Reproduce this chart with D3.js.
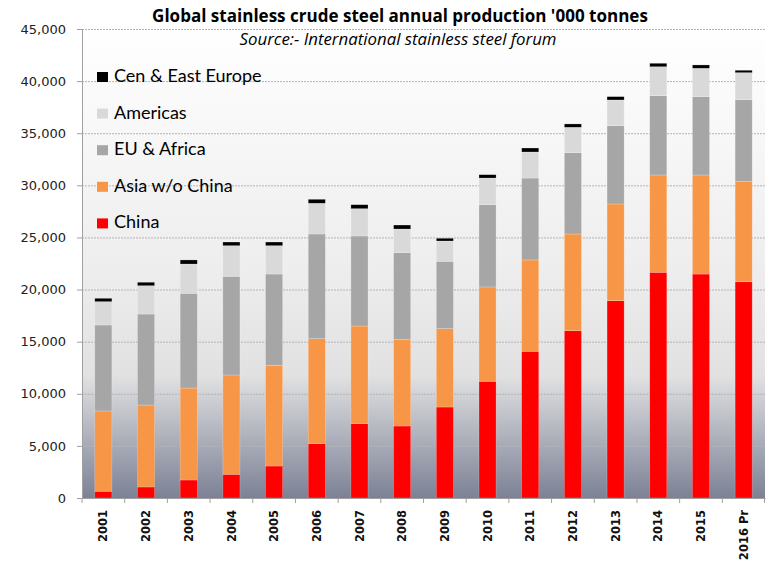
<!DOCTYPE html>
<html>
<head>
<meta charset="utf-8">
<script src="https://cdn.jsdelivr.net/npm/d3@7"></script>
<style>
  body { margin: 0; background: #fff; }
  svg { display: block; }
</style>
</head>
<body>
<svg class="chart"></svg>
<script>
// values in '000 tonnes
var years = ["2001", "2002", "2003", "2004", "2005", "2006", "2007", "2008",
             "2009", "2010", "2011", "2012", "2013", "2014", "2015", "2016 Pr"];
var china =         [640, 1060, 1730, 2270, 3070, 5210, 7130, 6910, 8730, 11200, 14080, 16050, 18930, 21660, 21490, 20750];
var asiaWoChina =   [7710, 7860, 8820, 9530, 9660, 10080, 9370, 8320, 7520, 9050, 8760, 9280, 9280, 9330, 9500, 9600];
var euAfrica =      [8250, 8730, 9090, 9470, 8760, 10040, 8640, 8310, 6460, 7890, 7860, 7800, 7510, 7610, 7520, 7870];
var americas =      [2240, 2720, 2810, 2940, 2720, 2950, 2620, 2270, 1950, 2560, 2500, 2440, 2470, 2780, 2720, 2590];
var cenEastEurope = [320, 330, 390, 350, 350, 380, 380, 380, 260, 320, 380, 320, 320, 330, 320, 230];

var seriesNames = ["China", "Asia w/o China", "EU & Africa", "Americas", "Cen & East Europe"];
var seriesColors = ["#ff0000", "#f79646", "#a6a6a6", "#d9d9d9", "#000000"];
var yTicks = [0, 5000, 10000, 15000, 20000, 25000, 30000, 35000, 40000, 45000];

var margin = { top: 29, right: 10, bottom: 63, left: 82 },
    totalW = 775, totalH = 561,
    width = totalW - margin.left - margin.right,
    height = totalH - margin.top - margin.bottom;

var svg = d3.select(".chart")
    .attr("width", totalW)
    .attr("height", totalH);

// plot area gradient (white at top, blue-grey at the bottom)
var grad = svg.append("defs").append("linearGradient")
    .attr("id", "bg")
    .attr("x1", 0).attr("y1", 0).attr("x2", 0).attr("y2", 1);
grad.append("stop").attr("offset", 0).attr("stop-color", "#ffffff");
grad.append("stop").attr("offset", 0.5).attr("stop-color", "#eeeeee");
grad.append("stop").attr("offset", 0.74).attr("stop-color", "#e1e1e2");
grad.append("stop").attr("offset", 1).attr("stop-color", "#7c8195");

var chart = svg.append("g")
    .attr("transform", "translate(" + margin.left + "," + margin.top + ")");

chart.append("rect")
    .attr("width", width)
    .attr("height", height)
    .attr("fill", "url(#bg)");

// build rows for the stack
var rows = years.map(function (y, i) {
    return {
        year: y,
        "China": china[i],
        "Asia w/o China": asiaWoChina[i],
        "EU & Africa": euAfrica[i],
        "Americas": americas[i],
        "Cen & East Europe": cenEastEurope[i]
    };
});

var x = d3.scaleBand()
    .domain(years)
    .range([0, width])
    .paddingInner(0.6)
    .paddingOuter(0.3);

var y = d3.scaleLinear()
    .domain([0, 45000])
    .range([height, 0]);

var color = d3.scaleOrdinal().domain(seriesNames).range(seriesColors);

// gridlines
chart.append("g")
    .selectAll("line")
    .data(yTicks.filter(function (d) { return d > 0; }))
    .enter().append("line")
    .attr("x1", 0)
    .attr("x2", width)
    .attr("y1", function (d) { return y(d) + 0.5; })
    .attr("y2", function (d) { return y(d) + 0.5; })
    .attr("stroke", "#b4b4b4")
    .attr("stroke-dasharray", "2,1");

// stacked bars
var stacked = d3.stack().keys(seriesNames)(rows);

chart.append("g")
    .selectAll("g")
    .data(stacked)
    .enter().append("g")
    .attr("fill", function (d) { return color(d.key); })
    .selectAll("rect")
    .data(function (d) { return d; })
    .enter().append("rect")
    .attr("x", function (d) { return x(d.data.year); })
    .attr("width", x.bandwidth())
    .attr("y", function (d) { return y(d[1]); })
    .attr("height", function (d) { return y(d[0]) - y(d[1]); })
    .attr("stroke", "rgba(255,255,255,0.35)")
    .attr("stroke-width", 0.6);

// y axis
var yAxis = d3.axisLeft(y)
    .tickValues(yTicks)
    .tickSize(5)
    .tickSizeOuter(0)
    .tickPadding(11)
    .tickFormat(d3.format(","));

var gy = chart.append("g").call(yAxis);
gy.select(".domain").attr("stroke", "#a0a0a0");
gy.selectAll(".tick line").attr("stroke", "#a0a0a0");
gy.selectAll("text")
    .attr("fill", "#222")
    .style("font-family", "'DejaVu Sans', Verdana, sans-serif")
    .style("font-size", "13px");

// x axis (labels only, ticks at band edges drawn below)
var xAxis = d3.axisBottom(x).tickSize(0).tickSizeOuter(0);
var gx = chart.append("g")
    .attr("transform", "translate(0," + height + ")")
    .call(xAxis);
gx.select(".domain").attr("stroke", "#a0a0a0");
gx.selectAll("text")
    .attr("transform", "rotate(-90)")
    .attr("text-anchor", "end")
    .attr("x", -12)
    .attr("y", 0)
    .attr("dy", "0.36em")
    .attr("fill", "#111")
    .style("font-family", "'DejaVu Sans', Tahoma, sans-serif")
    .style("font-weight", "bold")
    .style("font-size", "11.5px");

var gap = (x.step() - x.bandwidth()) / 2;
gx.append("g")
    .selectAll("line")
    .data(years)
    .enter().append("line")
    .attr("x1", function (d) { return x(d) - gap; })
    .attr("x2", function (d) { return x(d) - gap; })
    .attr("y1", 0)
    .attr("y2", 5)
    .attr("stroke", "#a0a0a0");
gx.append("line")
    .attr("x1", width - 0.5).attr("x2", width - 0.5)
    .attr("y1", 0).attr("y2", 5)
    .attr("stroke", "#a0a0a0");

// scale a text's font size so it spans the wanted width
function fitWidth(sel, wanted) {
    var size = parseFloat(sel.style("font-size"));
    var w = sel.node().getComputedTextLength();
    if (w > 0) sel.style("font-size", (size * wanted / w).toFixed(2) + "px");
}

// title + source
var title = svg.append("text")
    .attr("x", 400)
    .attr("y", 22)
    .attr("text-anchor", "middle")
    .style("font-family", "'Open Sans', Lato, sans-serif")
    .style("font-weight", "bold")
    .style("font-size", "15px")
    .attr("fill", "#000")
    .text("Global stainless crude steel annual production '000 tonnes");
fitWidth(title, 496);

var source = svg.append("text")
    .attr("x", 398)
    .attr("y", 45)
    .attr("text-anchor", "middle")
    .style("font-family", "'Open Sans', Lato, sans-serif")
    .style("font-style", "italic")
    .style("font-size", "14px")
    .attr("fill", "#000")
    .text("Source:- International stainless steel forum");
fitWidth(source, 317);

// legend, top entry is the top of the stack
var legendItems = seriesNames.slice().reverse();
var legend = svg.append("g")
    .attr("transform", "translate(97,82)")
    .selectAll("g")
    .data(legendItems)
    .enter().append("g")
    .attr("transform", function (d, i) { return "translate(0," + (i * 36.6) + ")"; });

legend.append("rect")
    .attr("x", 0)
    .attr("y", -10)
    .attr("width", 11)
    .attr("height", 10)
    .attr("fill", function (d) { return color(d); });

legend.append("text")
    .attr("x", 17)
    .attr("y", 0)
    .style("font-family", "Lato, 'Open Sans', sans-serif")
    .style("font-size", "18px")
    .attr("fill", "#000")
    .text(function (d) { return d; });
</script>
</body>
</html>
